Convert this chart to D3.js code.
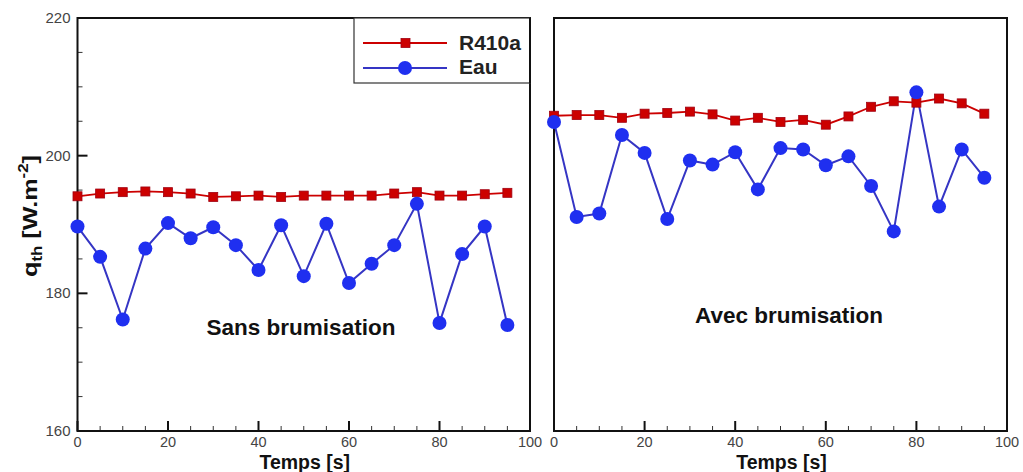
<!DOCTYPE html>
<html><head><meta charset="utf-8">
<script src="https://cdn.jsdelivr.net/npm/d3@7"></script>
<style>body{margin:0;background:#fff;} svg{display:block;font-family:"Liberation Sans",Arial,sans-serif;}</style>
</head><body>
<script>
const times = [0,5,10,15,20,25,30,35,40,45,50,55,60,65,70,75,80,85,90,95];
const sansR410a = [194.1,194.5,194.7,194.8,194.7,194.5,194.0,194.1,194.2,194.0,194.2,194.2,194.2,194.2,194.5,194.7,194.2,194.2,194.4,194.6];
const sansEau = [189.7,185.3,176.2,186.5,190.2,188.0,189.6,187.0,183.4,189.9,182.5,190.1,181.5,184.3,187.0,193.0,175.7,185.7,189.7,175.4];
const avecR410a = [205.8,205.9,205.9,205.5,206.1,206.2,206.4,206.0,205.1,205.5,204.9,205.2,204.5,205.7,207.1,207.9,207.7,208.3,207.6,206.1];
const avecEau = [204.9,191.1,191.6,203.0,200.4,190.8,199.3,198.7,200.5,195.1,201.1,200.9,198.6,199.9,195.6,189.0,209.2,192.6,200.9,196.8];
const xTicks = [0,20,40,60,80,100];
const yTicks = [160,180,200,220];
const seriesNames = ["R410a","Eau"];
const panelLabels = ["Sans brumisation","Avec brumisation"];

(function(){
const W=1023,H=472;
const svg=d3.select("body").append("svg").attr("width",W).attr("height",H);
const pTop=18,pBottom=431;
const y=d3.scaleLinear().domain([160,220]).range([pBottom,pTop]);
const panels=[
  {x0:77.5,x1:530,r:sansR410a,e:sansEau,label:panelLabels[0],lx:301,ly:335,yaxis:true},
  {x0:554,x1:1007,r:avecR410a,e:avecEau,label:panelLabels[1],lx:789,ly:323,yaxis:false}
];
const red="#cc0000", redS="#a00010", blue="#1f2ff0", blueL="#3535c4";

panels.forEach(p=>{
  const x=d3.scaleLinear().domain([0,100]).range([p.x0,p.x1]);
  const g=svg.append("g");
  const minorX=d3.range(0,101,5).filter(v=>v%20!==0);
  g.selectAll(".mx").data(minorX).enter().append("line")
    .attr("x1",d=>x(d)).attr("x2",d=>x(d)).attr("y1",pBottom).attr("y2",pBottom-5)
    .attr("stroke","#333").attr("stroke-width",1);
  g.selectAll(".Mx").data(xTicks).enter().append("line")
    .attr("x1",d=>x(d)).attr("x2",d=>x(d)).attr("y1",pBottom).attr("y2",pBottom-10)
    .attr("stroke","#111").attr("stroke-width",2);
  g.selectAll(".xl").data(xTicks).enter().append("text")
    .attr("x",d=>x(d)).attr("y",pBottom+16).attr("text-anchor","middle")
    .attr("font-size",14.5).attr("fill","#444").text(d=>d);
  if(p.yaxis){
    const minorY=d3.range(160,221,5).filter(v=>v%20!==0);
    g.selectAll(".my").data(minorY).enter().append("line")
      .attr("x1",p.x0).attr("x2",p.x0+5).attr("y1",d=>y(d)).attr("y2",d=>y(d))
      .attr("stroke","#333").attr("stroke-width",1);
    g.selectAll(".My").data(yTicks).enter().append("line")
      .attr("x1",p.x0).attr("x2",p.x0+10).attr("y1",d=>y(d)).attr("y2",d=>y(d))
      .attr("stroke","#111").attr("stroke-width",2);
    g.selectAll(".yl").data(yTicks).enter().append("text")
      .attr("x",p.x0-7).attr("y",d=>y(d)+5).attr("text-anchor","end")
      .attr("font-size",15).attr("fill","#444").text(d=>d);
  }
  g.append("rect").attr("x",p.x0).attr("y",pTop).attr("width",p.x1-p.x0).attr("height",pBottom-pTop)
    .attr("fill","none").attr("stroke","#111").attr("stroke-width",2);
  const line=arr=>d3.line().x((d,i)=>x(times[i])).y(d=>y(d))(arr);
  g.append("path").attr("d",line(p.r)).attr("fill","none").attr("stroke",red).attr("stroke-width",1.8);
  g.append("path").attr("d",line(p.e)).attr("fill","none").attr("stroke",blueL).attr("stroke-width",2);
  g.selectAll(".sq").data(p.r).enter().append("rect")
    .attr("x",(d,i)=>x(times[i])-4.5).attr("y",d=>y(d)-4.5).attr("width",9).attr("height",9)
    .attr("fill",red).attr("stroke",redS).attr("stroke-width",0.8);
  g.selectAll(".ci").data(p.e).enter().append("circle")
    .attr("cx",(d,i)=>x(times[i])).attr("cy",d=>y(d)).attr("r",7)
    .attr("fill",blue);
  g.append("text").attr("x",p.lx).attr("y",p.ly).attr("text-anchor","middle")
    .attr("font-size",22.5).attr("font-weight","bold").attr("fill","#111").text(p.label);
  g.append("text").attr("x",(p.x0+p.x1)/2+1).attr("y",468.5).attr("text-anchor","middle")
    .attr("font-size",19.5).attr("font-weight","bold").attr("fill","#111").text("Temps [s]");
});

const lg=svg.append("g");
lg.append("rect").attr("x",354).attr("y",18).attr("width",176).attr("height",65)
  .attr("fill","#fff").attr("stroke","#333").attr("stroke-width",1.2);
lg.append("line").attr("x1",530).attr("x2",530).attr("y1",18).attr("y2",83).attr("stroke","#111").attr("stroke-width",2);
lg.append("line").attr("x1",363).attr("x2",447).attr("y1",43).attr("y2",43).attr("stroke",red).attr("stroke-width",1.8);
lg.append("rect").attr("x",401).attr("y",38.5).attr("width",9).attr("height",9).attr("fill",red).attr("stroke",redS).attr("stroke-width",0.8);
lg.append("line").attr("x1",363).attr("x2",447).attr("y1",68).attr("y2",68).attr("stroke",blueL).attr("stroke-width",1.8);
lg.append("circle").attr("cx",405).attr("cy",68).attr("r",7).attr("fill",blue);
lg.append("text").attr("x",459).attr("y",50).attr("font-size",21).attr("font-weight","bold").attr("fill","#222").text(seriesNames[0]);
lg.append("text").attr("x",459).attr("y",74).attr("font-size",21).attr("font-weight","bold").attr("fill","#222").text(seriesNames[1]);

const yl=svg.append("text").attr("transform","translate(37,216) rotate(-90) scale(1.2,1)").attr("text-anchor","middle")
  .attr("font-size",21).attr("font-weight","bold").attr("fill","#111");
yl.append("tspan").text("q");
yl.append("tspan").attr("font-size",14).attr("dy",5).text("th");
yl.append("tspan").attr("dy",-5).text(" [W.m");
yl.append("tspan").attr("font-size",14).attr("dy",-9).text("-2");
yl.append("tspan").attr("dy",9).text("]");
})();
</script>
</body></html>
